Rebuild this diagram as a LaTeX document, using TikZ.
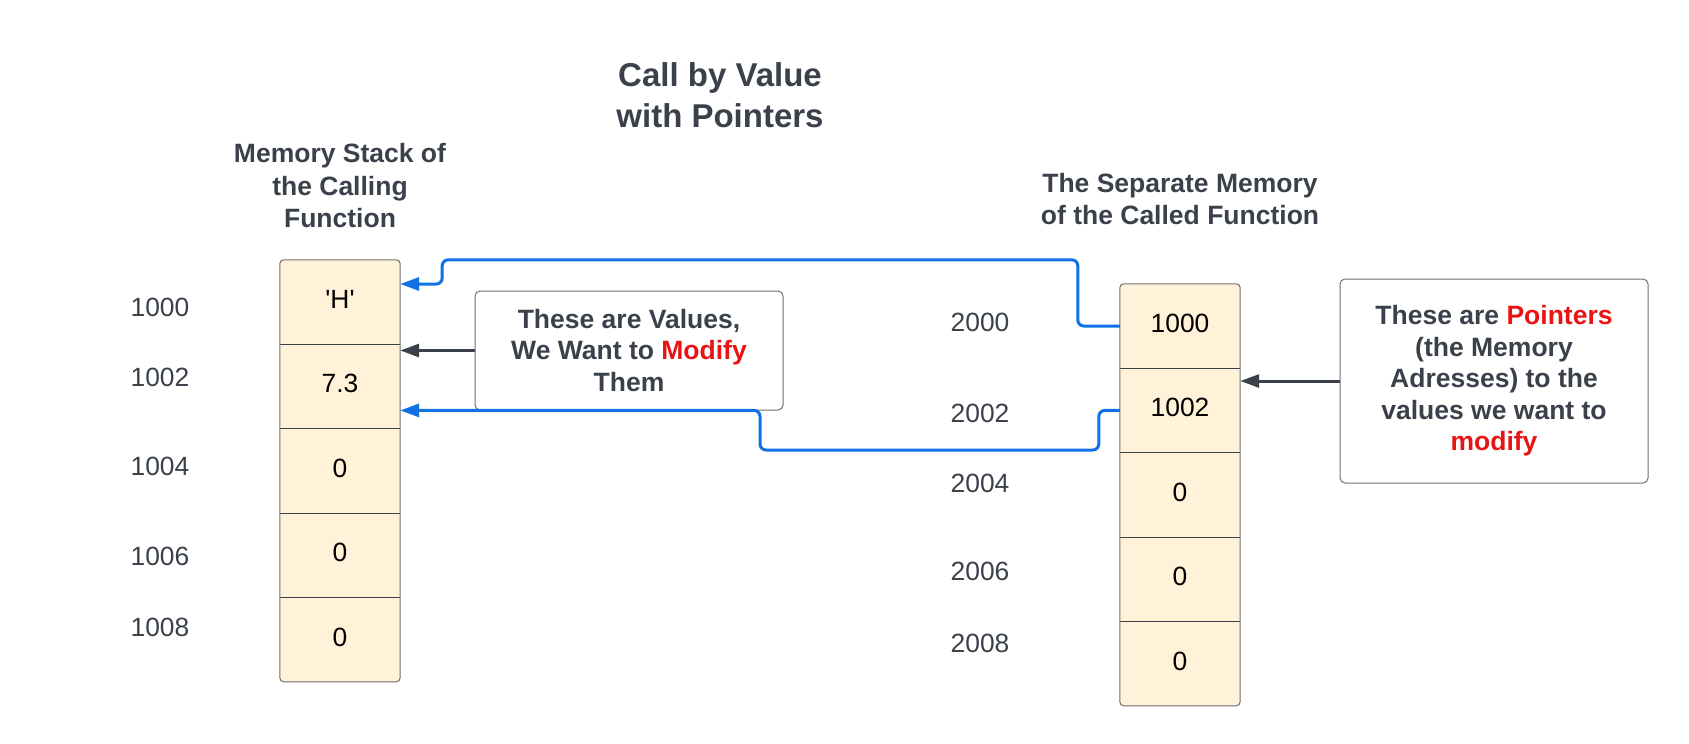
\documentclass[tikz,border=0pt]{standalone}
\usepackage{fontspec}
\setmainfont{Liberation Sans}[Ligatures=TeXOff]
\usetikzlibrary{calc}
\usetikzlibrary{positioning}
\usetikzlibrary{arrows.meta}

\definecolor{ink}{HTML}{3A414A}
\definecolor{cellfill}{HTML}{FFF2D9}
\definecolor{linkblue}{HTML}{1071E5}
\definecolor{hot}{HTML}{E81313}
\definecolor{rim}{HTML}{6F6F6F}

\tikzset{
	cell/.style={minimum width=120pt, minimum height=84pt, inner sep=0pt, text height=19pt, text depth=6pt, fill=cellfill, font=\fontsize{26.4}{31}\selectfont},
	addr/.style={text=ink, font=\fontsize{26.4}{31}\selectfont},
	head/.style={text=ink, align=center, font=\bfseries\fontsize{26.5}{32.5}\selectfont},
	note/.style={draw=rim, line width=1pt, rounded corners=5pt, align=center, text=ink, minimum width=308pt, font=\bfseries\fontsize{26.5}{31.5}\selectfont},
	link/.style={draw=linkblue, line width=3pt, rounded corners=6pt, -{Triangle[length=19pt, width=13pt]}},
	push/.style={draw=ink, line width=3pt, -{Triangle[length=19pt, width=13pt]}}
}

\begin{document}
\begin{tikzpicture}[x=1pt, y=-1pt]
	\useasboundingbox (0,0) rectangle (1689,744);

	\node[head, font=\bfseries\fontsize{33}{40.5}\selectfont] (title) at (720,95) {Call by Value\\with Pointers};

	% stack of the calling function
	\node[head] (lhead) at (340,186) {Memory Stack of\\the Calling\\Function};
	\node[cell] (a1) at (340,302) {'H'};
	\node[cell, below=0pt of a1] (a2) {7.3};
	\node[cell, below=0pt of a2] (a3) {0};
	\node[cell, below=0pt of a3] (a4) {0};
	\node[cell, below=0pt of a4] (a5) {0};
	\draw[ink] (a1.south west) -- (a1.south east);
	\draw[ink] (a2.south west) -- (a2.south east);
	\draw[ink] (a3.south west) -- (a3.south east);
	\draw[ink] (a4.south west) -- (a4.south east);
	\draw[rim, line width=1pt, rounded corners=4pt] (a1.north west) rectangle (a5.south east);

	\node[addr] (l1) at (160,307) {1000};
	\node[addr] (l2) at (160,377) {1002};
	\node[addr] (l3) at (160,466) {1004};
	\node[addr] (l4) at (160,556) {1006};
	\node[addr] (l5) at (160,627) {1008};

	% memory of the called function
	\node[head] (rhead) at (1180,199) {The Separate Memory\\of the Called Function};
	\node[cell] (b1) at (1180,326) {1000};
	\node[cell, below=0pt of b1] (b2) {1002};
	\node[cell, below=0pt of b2] (b3) {0};
	\node[cell, below=0pt of b3] (b4) {0};
	\node[cell, below=0pt of b4] (b5) {0};
	\draw[ink] (b1.south west) -- (b1.south east);
	\draw[ink] (b2.south west) -- (b2.south east);
	\draw[ink] (b3.south west) -- (b3.south east);
	\draw[ink] (b4.south west) -- (b4.south east);
	\draw[rim, line width=1pt, rounded corners=4pt] (b1.north west) rectangle (b5.south east);

	\node[addr] (r1) at (980,322) {2000};
	\node[addr] (r2) at (980,413) {2002};
	\node[addr] (r3) at (980,483) {2004};
	\node[addr] (r4) at (980,571) {2006};
	\node[addr] (r5) at (980,643) {2008};

	% the two notes
	\node[note, minimum height=119pt] (vals) at (629,350.5) {These are Values,\\We Want to \textcolor{hot}{Modify}\\Them};
	\node[note, minimum height=204pt] (ptrs) at (1494,381) {These are \textcolor{hot}{Pointers}\\(the Memory\\Adresses) to the\\values we want to\\\textcolor{hot}{modify}};

	\draw[push] (vals.west) -- (vals.west -| a2.east);
	\draw[push] (ptrs.west) -- (ptrs.west -| b2.east);

	\draw[link] (b1.west) -- ++(-42,0) |- ($(a1.north east)+(42,0)$) |- ($(a1.east)+(0,-18)$);
	\draw[link] (b2.west) -- ++(-21,0) |- (760,450) |- ($(a2.east)+(0,24)$);

\end{tikzpicture}
\end{document}
